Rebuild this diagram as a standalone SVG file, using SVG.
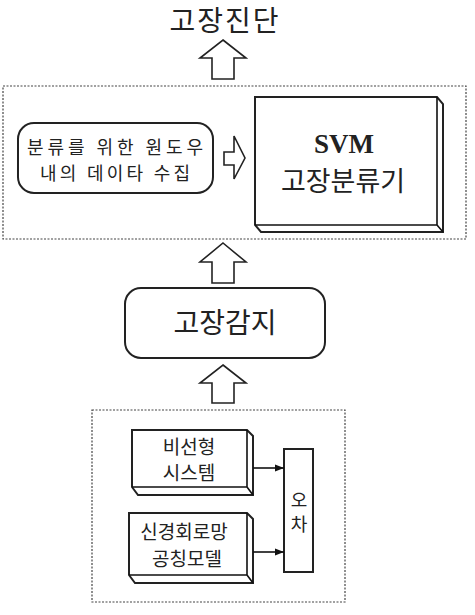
<svg xmlns="http://www.w3.org/2000/svg" width="475" height="615" viewBox="0 0 475 615">
<style>
.k{font-family:"Noto Sans CJK KR","Noto Sans",sans-serif;fill:#222;text-anchor:middle;dominant-baseline:central}
.box{fill:#fff;stroke:#222;stroke-width:2}
.dash{fill:none;stroke:#444;stroke-width:1.2;stroke-dasharray:2 1.5}
.hol{fill:#fff;stroke:#222;stroke-width:1.6;stroke-linejoin:miter}
.ln{stroke:#111;stroke-width:1.6;fill:none}
</style>
<defs>
<marker id="ah" viewBox="0 0 10 10" refX="10" refY="5" markerWidth="9" markerHeight="9" markerUnits="userSpaceOnUse" orient="auto"><path d="M0,1 L10,5 L0,9 Z" fill="#111"/></marker>
</defs>
<rect width="475" height="615" fill="#fff"/>

<g id="title">
<text class="k" x="225" y="19" font-size="28" letter-spacing="2">고장진단</text>
</g>

<g id="classBlock">
<rect class="dash" x="3" y="86" width="463" height="153"/>
</g>

<g id="windowCollect">
<rect class="box" x="18" y="123" width="195" height="70" rx="16" stroke-width="1.6"/>
<text class="k" x="115" y="146" font-size="18" textLength="176" lengthAdjust="spacing">분류를 위한 원도우</text>
<text class="k" x="115" y="172" font-size="18" textLength="150" lengthAdjust="spacing">내의 데이타 수집</text>
</g>

<g id="svm">
<path class="box" d="M255,97 L437,97 L443,104 L443,232 L261,232 L255,225 Z"/>
<path class="ln" d="M255,225 L437,225 L437,97 M437,225 L443,232"/>
<text x="344" y="144" font-size="27" font-weight="bold" font-family="'Liberation Serif',serif" fill="#222" text-anchor="middle" dominant-baseline="central">SVM</text>
<text class="k" x="343" y="179" font-size="27">고장분류기</text>
</g>

<g id="detect">
<rect class="box" x="125" y="288" width="200" height="70" rx="16" stroke-width="1.6"/>
<text class="k" x="225" y="321" font-size="28">고장감지</text>
</g>

<g id="residualBlock">
<rect class="dash" x="92" y="410" width="253" height="192"/>
</g>

<g id="nonlinear">
<path class="box" d="M132,430 L247,430 L253,436 L253,495 L138,495 L132,487 Z"/>
<path class="ln" d="M132,487 L247,487 L247,430 M247,487 L253,495"/>
<text class="k" x="189" y="445" font-size="19">비선형</text>
<text class="k" x="189" y="471" font-size="19">시스템</text>
</g>

<g id="nnModel">
<path class="box" d="M129,513 L247,513 L253,519 L253,583 L135,583 L129,575 Z"/>
<path class="ln" d="M129,575 L247,575 L247,513 M247,575 L253,583"/>
<text class="k" x="184" y="530" font-size="19">신경회로망</text>
<text class="k" x="187" y="557" font-size="19">공칭모델</text>
</g>

<g id="error">
<rect class="box" x="284" y="449" width="29" height="123" stroke-width="1.8"/>
<text class="k" x="299" y="499" font-size="18">오</text>
<text class="k" x="299" y="523" font-size="18">차</text>
</g>

<g id="connectors">
<path class="hol" d="M223,40 L246,58 L234,58 L234,79 L212,79 L212,58 L200,58 Z"/>
<path class="hol" d="M223,243 L246,262 L234,262 L234,283 L212,283 L212,262 L200,262 Z"/>
<path class="hol" d="M223,365 L246,383 L234,383 L234,403 L212,403 L212,383 L200,383 Z"/>
<path class="hol" d="M224,152 L234,152 L234,136 L245,158 L234,179 L234,165 L224,165 Z"/>
<line class="ln" x1="253" y1="468" x2="284" y2="468" marker-end="url(#ah)"/>
<line class="ln" x1="253" y1="552" x2="284" y2="552" marker-end="url(#ah)"/>
</g>
</svg>
